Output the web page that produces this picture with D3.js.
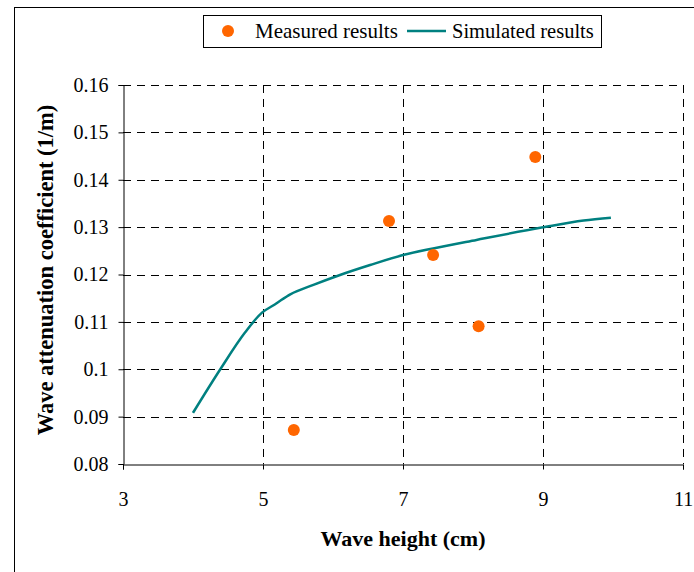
<!DOCTYPE html>
<html><head><meta charset="utf-8">
<script src="https://cdn.jsdelivr.net/npm/d3@7"></script>
<style>body{margin:0;background:#fff}svg{display:block}</style>
</head><body>
<script>
const measuredX = [5.44, 6.80, 7.43, 8.08, 8.89];
const measuredY = [0.0872, 0.1313, 0.1241, 0.1091, 0.1448];
const simX = [4.0, 4.39, 4.74, 4.99, 5.15, 5.24, 5.39, 5.72, 6.1, 6.53, 7.0, 7.43, 8.05, 8.98, 9.58, 9.97];
const simY = [0.0908, 0.100, 0.1077, 0.112, 0.1135, 0.1144, 0.1158, 0.1178, 0.1199, 0.1220, 0.1241, 0.1255, 0.1273, 0.1299, 0.1314, 0.1320];
const xTicks = [3, 5, 7, 9, 11];
const yTicks = [0.08, 0.09, 0.1, 0.11, 0.12, 0.13, 0.14, 0.15, 0.16];
const seriesNames = ["Measured results", "Simulated results"];

const W = 694, H = 572;
const svg = d3.select("body").append("svg").attr("width", W).attr("height", H);
const font = "'Liberation Serif','Times New Roman',serif";

svg.append("rect").attr("x", 14.5).attr("y", 7.5).attr("width", 700).attr("height", 600)
  .attr("fill", "none").attr("stroke", "#000").attr("stroke-width", 1);

const x = d3.scaleLinear().domain([3, 11]).range([123, 683]);
const y = d3.scaleLinear().domain([0.08, 0.16]).range([464, 85]);

// grid
const g = svg.append("g");
yTicks.filter(d => d > 0.08).forEach(d => {
  g.append("line").attr("x1", x(3)).attr("x2", x(11)).attr("y1", Math.round(y(d)) + 0.5).attr("y2", Math.round(y(d)) + 0.5)
    .attr("stroke", "#000").attr("stroke-dasharray", "8,6").attr("stroke-width", 1);
});
xTicks.filter(d => d > 3).forEach(d => {
  g.append("line").attr("x1", Math.round(x(d)) + 0.5).attr("x2", Math.round(x(d)) + 0.5).attr("y1", y(0.16)).attr("y2", y(0.08))
    .attr("stroke", "#000").attr("stroke-dasharray", "8,6").attr("stroke-width", 1);
});

// axes
const yAxis = d3.axisLeft(y).tickValues(yTicks).tickSize(5).tickPadding(10)
  .tickFormat(d => String(+d.toFixed(2)));
const ya = svg.append("g").attr("transform", `translate(${Math.round(x(3)) + 0.5},0)`).call(yAxis);
const xAxis = d3.axisBottom(x).tickValues(xTicks).tickSize(5).tickPadding(22);
const xa = svg.append("g").attr("transform", `translate(0,${Math.round(y(0.08)) + 0.5})`).call(xAxis);
[ya, xa].forEach(a => {
  a.attr("font-family", null).attr("font-size", null);
  a.select(".domain").attr("stroke", "#000");
  a.selectAll(".tick line").attr("stroke", "#000");
  a.selectAll("text").style("font-family", font).style("font-size", "20px").attr("fill", "#000");
});

// line
const line = d3.line().x((d, i) => x(simX[i])).y((d, i) => y(simY[i])).curve(d3.curveMonotoneX);
svg.append("path").datum(simX).attr("d", line).attr("fill", "none")
  .attr("stroke", "#008080").attr("stroke-width", 2.5);

// points
svg.selectAll(".pt").data(measuredX).enter().append("circle")
  .attr("cx", (d) => x(d)).attr("cy", (d, i) => y(measuredY[i])).attr("r", 6)
  .attr("fill", "#FF6600");

// titles
svg.append("text").attr("x", 403).attr("y", 546).attr("text-anchor", "middle")
  .style("font-family", font).style("font-weight", "bold").style("font-size", "22px").text("Wave height (cm)");
svg.append("text").attr("transform", `translate(53,270) rotate(-90)`)
  .attr("text-anchor", "middle").style("font-family", font).style("font-weight", "bold").style("font-size", "22.5px")
  .text("Wave attenuation coefficient (1/m)");

// legend
const lg = svg.append("g");
lg.append("rect").attr("x", 203.5).attr("y", 15.5).attr("width", 398).attr("height", 32)
  .attr("fill", "#fff").attr("stroke", "#000");
lg.append("circle").attr("cx", 228).attr("cy", 31).attr("r", 6).attr("fill", "#FF6600");
lg.append("text").attr("x", 255).attr("y", 38).style("font-family", font).style("font-size", "21px").text(seriesNames[0]);
lg.append("line").attr("x1", 407).attr("x2", 446).attr("y1", 31).attr("y2", 31).attr("stroke", "#008080").attr("stroke-width", 2.5);
lg.append("text").attr("x", 452).attr("y", 38).style("font-family", font).style("font-size", "20.5px").text(seriesNames[1]);
</script>
</body></html>
